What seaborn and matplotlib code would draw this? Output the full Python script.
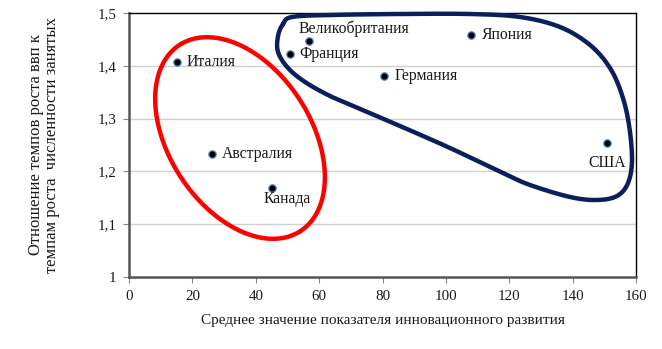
import numpy as np
import pandas as pd
import matplotlib
matplotlib.use("Agg")
import matplotlib.pyplot as plt
import seaborn as sns

countries = ["Италия", "Австралия", "Канада", "Великобритания", "Франция",
             "Германия", "Япония", "США"]
innovation = [15, 26.3, 45, 56.8, 50.8, 80.4, 107.8, 150.8]
ratio = [1.407, 1.232, 1.169, 1.447, 1.422, 1.380, 1.458, 1.254]

# label offsets in points (dx, dy) and horizontal alignment
label_dx = [7, 7, 11, -7.5, 6.5, 8, 8, 0]
label_dy = [0, 0, -8, 8.5, 0, 0, 0, -14.5]
label_ha = ["left", "left", "center", "left", "left", "left", "left", "center"]

x_ticks = [0, 20, 40, 60, 80, 100, 120, 140, 160]
y_ticks = [1.0, 1.1, 1.2, 1.3, 1.4, 1.5]
y_tick_labels = ["1", "1,1", "1,2", "1,3", "1,4", "1,5"]

df = pd.DataFrame({"country": countries, "x": innovation, "y": ratio})

sns.set_theme(style="white")
plt.rcParams["font.family"] = ["Liberation Serif", "DejaVu Serif"]

fig = plt.figure(figsize=(6.62, 3.49), dpi=100)
ax = fig.add_axes([0.1949, 0.2063, 0.7658, 0.7565])

for yv in y_ticks[1:-1]:
    ax.axhline(yv, color="#d0d0d0", lw=1.0, zorder=0)

sns.scatterplot(data=df, x="x", y="y", ax=ax, s=28, color="black",
                edgecolor="#4f81bd", linewidth=0.9, zorder=5)

for c, xv, yv, dx, dy, ha in zip(countries, innovation, ratio,
                                 label_dx, label_dy, label_ha):
    ax.annotate(c, (xv, yv), xytext=(dx, dy), textcoords="offset points",
                ha=ha, va="center", fontsize=11.3, color="#1a1a1a", zorder=6)

ax.set_xlim(0, 160)
ax.set_ylim(1.0, 1.5)
ax.set_xticks(x_ticks)
ax.set_yticks(y_ticks)
ax.set_yticklabels(y_tick_labels)
ax.tick_params(axis="both", labelsize=10.8, colors="#1a1a1a", length=4,
               width=0.8, direction="out", pad=5)
ax.tick_params(axis="x", bottom=True, color="#888888")
ax.tick_params(axis="y", left=True, color="#888888")

for side in ["top", "right"]:
    ax.spines[side].set_color("black")
    ax.spines[side].set_linewidth(1.0)
for side in ["left", "bottom"]:
    ax.spines[side].set_color("#555555")
    ax.spines[side].set_linewidth(1.8)

ax.set_xlabel("Среднее значение показателя инновационного развития",
              fontsize=11, color="#1a1a1a", labelpad=8)
ax.set_ylabel("Отношение темпов роста ввп к\nтемпам роста  численности занятых",
              fontsize=12, color="#1a1a1a", labelpad=27, linespacing=1.0)

# conversion between data units and screen pixels for the hand-drawn groupings
px_x = ax.bbox.width / 160.0
px_y = ax.bbox.height / 0.5
x0_px, y0_px = 129.0, 277.0


def to_data(px, py):
    px = np.asarray(px, float)
    py = np.asarray(py, float)
    return (px - x0_px) / px_x, 1.0 + (y0_px - py) / px_y


# red ellipse around the low-innovation group
t = np.linspace(0, 2 * np.pi, 400)
a, b, th = 111.0, 71.0, np.deg2rad(57)
cx, cy = 240.0, 138.0
ex = cx + a * np.cos(t) * np.cos(th) - b * np.sin(t) * np.sin(th)
ey = cy + a * np.cos(t) * np.sin(th) + b * np.sin(t) * np.cos(th)
rx, ry = to_data(ex, ey)
ax.plot(rx, ry, color="#ff0000", lw=3.2, zorder=4, clip_on=False,
        solid_capstyle="round")

# navy closed contour around the high-innovation group
pts = np.array([
    (283, 24), (292, 17), (330, 15), (400, 14), (470, 14), (520, 17),
    (560, 27), (590, 45), (610, 68), (622, 95), (629, 125), (632, 160),
    (628, 183), (617, 196), (597, 200), (570, 197), (530, 185), (503, 173),
    (450, 148), (400, 126), (360, 109), (330, 96), (305, 82), (288, 68),
    (278, 52), (278, 36),
])


def catmull_rom_closed(p, n=20):
    out = []
    m = len(p)
    for i in range(m):
        p0, p1, p2, p3 = p[i - 1], p[i], p[(i + 1) % m], p[(i + 2) % m]
        for s in np.linspace(0, 1, n, endpoint=False):
            s2, s3 = s * s, s * s * s
            out.append(0.5 * ((2 * p1) + (-p0 + p2) * s
                              + (2 * p0 - 5 * p1 + 4 * p2 - p3) * s2
                              + (-p0 + 3 * p1 - 3 * p2 + p3) * s3))
    out.append(out[0])
    return np.array(out)


curve = catmull_rom_closed(pts.astype(float))
bx, by = to_data(curve[:, 0], curve[:, 1])
ax.plot(bx, by, color="#0b1f5c", lw=3.2, zorder=4, clip_on=False,
        solid_joinstyle="round")

fig.savefig("out.png", dpi=100, facecolor="white")
